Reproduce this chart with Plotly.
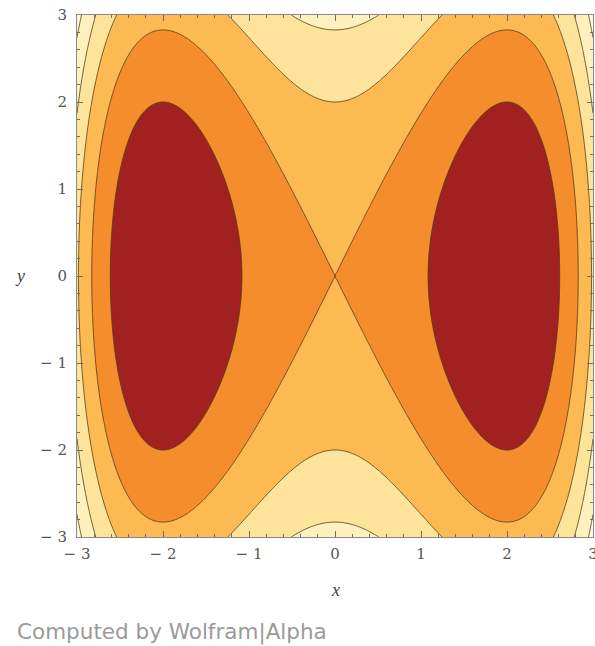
import numpy as np
import plotly.graph_objects as go

# plotted function: f(x, y) = 8x^2 - x^4 - 2y^2 on [-3, 3] x [-3, 3]
x_range = [-3, 3]
y_range = [-3, 3]
coef_x2 = 8
coef_x4 = -1
coef_y2 = -2

# contour levels and band colours (lowest band first)
level_start = -24
level_end = 8
level_step = 8
band_colors = ["#fff8dc", "#fff0bd", "#fee39a", "#fdba52", "#f58d2c", "#a0211f"]

tick_vals = [-3, -2, -1, 0, 1, 2, 3]
tick_text = ["\u2212 3", "\u2212 2", "\u2212 1", "0", "1", "2", "3"]

xs = np.linspace(x_range[0], x_range[1], 301)
ys = np.linspace(y_range[0], y_range[1], 301)
X, Y = np.meshgrid(xs, ys)
Z = coef_x2 * X**2 + coef_x4 * X**4 + coef_y2 * Y**2

n = len(band_colors) - 1
colorscale = [[i / n, c] for i, c in enumerate(band_colors)]

fig = go.Figure(go.Contour(
    x=xs,
    y=ys,
    z=Z,
    contours=dict(start=level_start, end=level_end, size=level_step,
                  coloring='fill', showlines=True),
    colorscale=colorscale,
    line=dict(color='rgba(75,60,25,0.8)', width=1),
    showscale=False,
    hoverinfo='skip'
))

axis_common = dict(
    tickvals=tick_vals,
    ticktext=tick_text,
    ticks='inside',
    ticklen=6,
    tickwidth=1,
    tickcolor='#6f6f6f',
    showline=True,
    linecolor='#8a8a8a',
    linewidth=1,
    mirror='allticks',
    showgrid=False,
    zeroline=False,
    automargin=False,
    ticklabeloverflow='allow',
    tickfont=dict(family='DejaVu Serif', size=15, color='#555555'),
    minor=dict(dtick=0.2, ticks='inside', ticklen=3, tickcolor='#6f6f6f', showgrid=False),
)

W, H = 595, 646
L, T, R, B = 77, 15, 2, 109
pw, ph = W - L - R, H - T - B

fig.update_layout(
    width=W,
    height=H,
    margin=dict(l=L, r=R, t=T, b=B, autoexpand=False),
    paper_bgcolor='white',
    plot_bgcolor='white',
    xaxis=dict(axis_common, range=x_range, ticklabelstandoff=3),
    yaxis=dict(axis_common, range=y_range, ticklabelstandoff=6),
    showlegend=False,
    annotations=[
        dict(text='<i>y</i>', x=(20 - L) / pw, y=0.5, xref='paper', yref='paper',
             showarrow=False, font=dict(family='Liberation Serif', size=18, color='#444444'),
             xanchor='center', yanchor='middle'),
        dict(text='<i>x</i>', x=0.5, y=-(590 - (H - B)) / ph, xref='paper', yref='paper',
             showarrow=False, font=dict(family='Liberation Serif', size=18, color='#444444'),
             xanchor='center', yanchor='middle'),
        dict(text='Computed by Wolfram|Alpha', x=(15 - L) / pw, y=-(632 - (H - B)) / ph,
             xref='paper', yref='paper', showarrow=False,
             font=dict(family='DejaVu Sans', size=21.5, color='#9a9a9a'),
             xanchor='left', yanchor='middle'),
    ],
)

# drop the default 8px page margin so the figure sits at the window's corner
fig.write_html("out.html", config={'displayModeBar': False},
               post_script="document.body.style.margin='0';")
